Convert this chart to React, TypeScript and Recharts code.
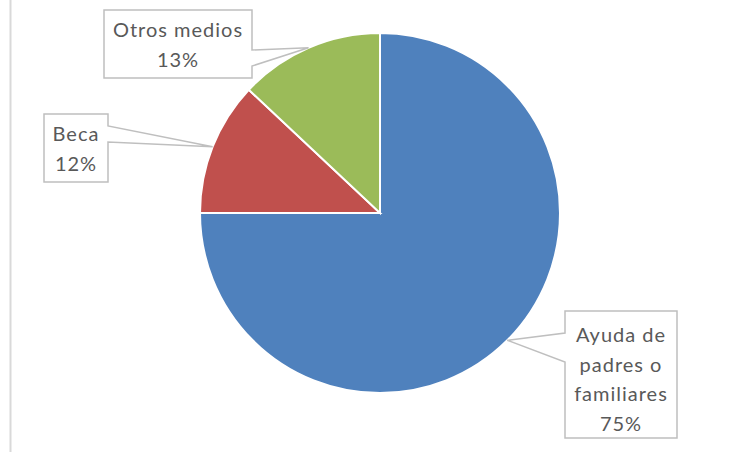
import React from "react";
import { PieChart, Pie, Cell } from "recharts";

const categories = ["Ayuda de padres o familiares", "Beca", "Otros medios"];
const values = [75, 12, 13];
const labelLines = [["Ayuda de", "padres o", "familiares"], ["Beca"], ["Otros medios"]];
const colors = ["#4F81BD", "#C0504D", "#9BBB59"];

// callout box layout (x, y, w, h, pointer side, base y1, base y2, text center x, first baseline)
const boxes = [
  { x: 565, y: 311, w: 112, h: 127, side: "left", b1: 333, b2: 362, tx: 621, ty: 342 },
  { x: 44, y: 114, w: 64, h: 68, side: "right", b1: 126, b2: 142, tx: 76, ty: 141 },
  { x: 104, y: 10, w: 148, h: 68, side: "right", b1: 50, b2: 66, tx: 178, ty: 37 },
];

const data = categories.map((c, i) => ({ name: c, value: values[i] }));
const RADIAN = Math.PI / 180;

const renderLabel = (props: any) => {
  const { cx, cy, midAngle, outerRadius, index, percent } = props;
  const b = boxes[index];
  const px = cx + outerRadius * Math.cos(-midAngle * RADIAN);
  const py = cy + outerRadius * Math.sin(-midAngle * RADIAN);
  let d: string;
  if (b.side === "right") {
    d = `M${b.x},${b.y} L${b.x + b.w},${b.y} L${b.x + b.w},${b.b1} L${px},${py} L${b.x + b.w},${b.b2} L${b.x + b.w},${b.y + b.h} L${b.x},${b.y + b.h} Z`;
  } else {
    d = `M${b.x},${b.y} L${b.x + b.w},${b.y} L${b.x + b.w},${b.y + b.h} L${b.x},${b.y + b.h} L${b.x},${b.b2} L${px},${py} L${b.x},${b.b1} Z`;
  }
  const lines = [...labelLines[index], `${Math.round(percent * 100)}%`];
  return (
    <g key={`lbl-${index}`}>
      <path d={d} fill="#FFFFFF" stroke="#BFBFBF" strokeWidth={1.5} />
      {lines.map((l, i) => (
        <text
          key={i}
          x={b.tx}
          y={b.ty + i * 29.5}
          textAnchor="middle"
          fill="#595959"
          fontSize={20}
          letterSpacing={1}
          fontFamily="Lato, 'Open Sans', sans-serif"
        >
          {l}
        </text>
      ))}
    </g>
  );
};

export default function App() {
  return (
    <div style={{ position: "absolute", left: 0, top: 0, width: 733, height: 452, background: "#fff" }}>
      <svg width={733} height={452} style={{ position: "absolute", left: 0, top: 0 }}>
        <line x1={10.5} y1={0} x2={10.5} y2={452} stroke="#D9D9D9" strokeWidth={2} />
      </svg>
      <div style={{ position: "absolute", left: 0, top: 0 }}>
        <PieChart width={733} height={452} margin={{ top: 0, right: 0, bottom: 0, left: 0 }}>
          <Pie
            data={data}
            dataKey="value"
            cx={380}
            cy={213}
            outerRadius={180}
            innerRadius={0}
            startAngle={90}
            endAngle={-270}
            stroke="#FFFFFF"
            strokeWidth={2}
            label={renderLabel}
            labelLine={false}
            isAnimationActive={false}
          >
            {data.map((_, i) => (
              <Cell key={i} fill={colors[i]} />
            ))}
          </Pie>
        </PieChart>
      </div>
    </div>
  );
}
